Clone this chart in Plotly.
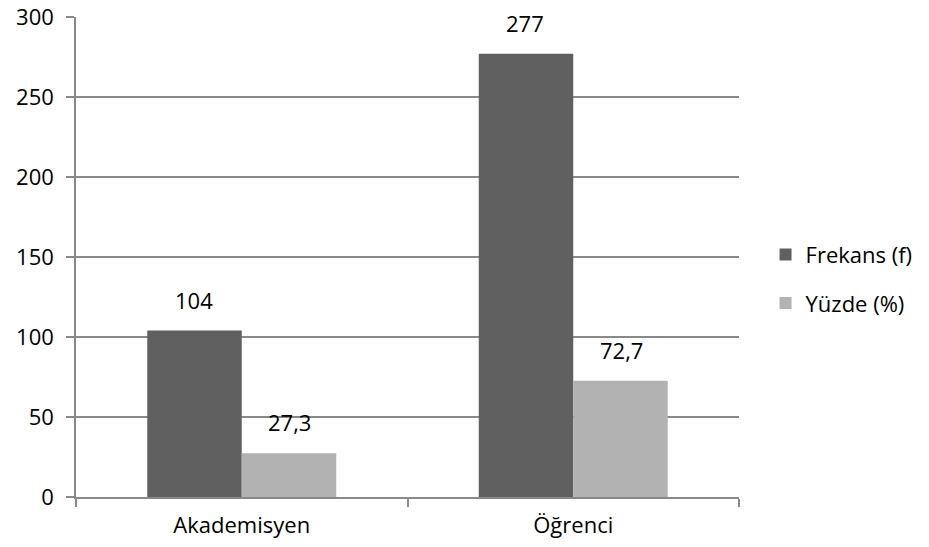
import plotly.graph_objects as go

categories = ["Akademisyen", "Öğrenci"]
frekans = [104, 277]
yuzde = [27.3, 72.7]
frekans_labels = ["104", "277"]
yuzde_labels = ["27,3", "72,7"]

axis_grey = "#898989"

fig = go.Figure()
fig.add_trace(go.Bar(
    x=categories, y=frekans, name="Frekans (f)",
    marker=dict(color="#606060", line=dict(width=0)),
    legendgroup="f",
))
fig.add_trace(go.Bar(
    x=categories, y=yuzde, name="Yüzde (%)",
    marker=dict(color="#b2b2b2", line=dict(width=0)),
    legendgroup="y",
))

# value labels sit well above the bars, like Excel's data labels
for vals, labels, shift in [(frekans, frekans_labels, -48), (yuzde, yuzde_labels, 48)]:
    for cat, v, lab in zip(categories, vals, labels):
        fig.add_annotation(x=cat, y=v, text=lab, showarrow=False,
                           xshift=shift, yshift=14, yanchor="bottom",
                           font=dict(size=22, color="#000000"))

fig.update_layout(
    width=929, height=547,
    margin=dict(l=76, r=181, t=17, b=50),
    plot_bgcolor="white", paper_bgcolor="white",
    font=dict(family="Open Sans, sans-serif", size=22, color="#000000"),
    barmode="group", bargap=0.43, bargroupgap=0,
    # anchored on the right edge so the legend does not push the margin
    legend=dict(x=1.2693, y=0.454, xanchor="right", yanchor="middle",
                tracegroupgap=17, font=dict(size=22)),
    xaxis=dict(showline=True, linecolor=axis_grey, linewidth=1.5,
               ticks="outside", tickson="boundaries", ticklen=8,
               tickcolor=axis_grey, tickwidth=1.5, automargin=False,
               ticklabelstandoff=8),
    yaxis=dict(range=[0, 300], dtick=50, showline=True, linecolor=axis_grey,
               linewidth=1.5, ticks="outside", ticklen=8, tickcolor=axis_grey,
               tickwidth=1.5, showgrid=True, gridcolor=axis_grey, gridwidth=1.5,
               zeroline=False, automargin=False, ticklabelstandoff=8,
               ticklabeloverflow="allow"),
)

# drop the default 8px body margin so the figure fills the window
fig.write_html("out.html", config={"displayModeBar": False},
               post_script="document.body.style.margin='0';")
